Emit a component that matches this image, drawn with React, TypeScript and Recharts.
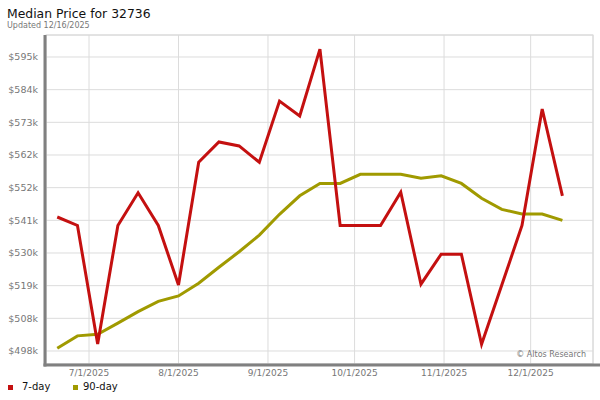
import React from 'react';
import { LineChart, Line, XAxis, YAxis, CartesianGrid, Customized } from 'recharts';

const DAY = 86400000;

const dates = [
  '2025-06-20', '2025-06-27', '2025-07-04', '2025-07-11', '2025-07-18', '2025-07-25',
  '2025-08-01', '2025-08-08', '2025-08-15', '2025-08-22', '2025-08-29', '2025-09-05',
  '2025-09-12', '2025-09-19', '2025-09-26', '2025-10-03', '2025-10-10', '2025-10-17',
  '2025-10-24', '2025-10-31', '2025-11-07', '2025-11-14', '2025-11-21', '2025-11-28',
  '2025-12-05', '2025-12-12',
];

const sevenDay = [
  542300, 539500, 500300, 539500, 550300, 539500,
  519800, 560400, 567100, 565800, 560400, 580600,
  575700, 597800, 539500, 539500, 539500, 550500,
  520100, 530000, 530000, 500200, 519800, 539500,
  578000, 549300,
];

const ninetyDay = [
  498900, 503000, 503500, 507200, 511000, 514400,
  516200, 520400, 525700, 530800, 536300, 543200,
  549300, 553400, 553400, 556400, 556400, 556400,
  555100, 555900, 553400, 548500, 544800, 543300,
  543300, 541200,
];

const xTickDates = ['2025-07-01', '2025-08-01', '2025-09-01', '2025-10-01', '2025-11-01', '2025-12-01'];
const xTickLabels = ['7/1/2025', '8/1/2025', '9/1/2025', '10/1/2025', '11/1/2025', '12/1/2025'];

const yTicks = [498000, 508800, 519600, 530400, 541200, 552000, 562800, 573600, 584400, 595200];
const yTickLabels = ['$498k', '$508k', '$519k', '$530k', '$541k', '$552k', '$562k', '$573k', '$584k', '$595k'];

const seriesNames = ['7-day', '90-day'];
const seriesColors = ['#c41010', '#a09a00'];

const toT = (s: string) => {
  const [y, m, d] = s.split('-').map(Number);
  return Date.UTC(y, m - 1, d);
};

const data = dates.map((d, i) => ({ t: toT(d), d7: sevenDay[i], d90: ninetyDay[i] }));
const xTicks = xTickDates.map(toT);

const W = 600;
const H = 400;
const M = { top: 35, right: 7, left: 0, bottom: 0 };
const Y_W = 46;
const X_H = 36;
const PL = M.left + Y_W;
const PT = M.top;
const PR = W - M.right;
const PB = H - M.bottom - X_H;

const xDomain = [toT('2025-07-01') - 14.9 * DAY, toT('2025-07-01') + 174.6 * DAY];
const yDomain = [493700, 602470];

const FONT = '"DejaVu Sans", Verdana, sans-serif';

const Frame = () => (
  <g>
    <rect x={PL} y={PT} width={PR - PL} height={PB - PT} fill="none" stroke="#d8d8d8" strokeWidth={1} />
    <line x1={PL - 1} y1={PT} x2={PL - 1} y2={PB + 2.5} stroke="#808080" strokeWidth={3} />
    <line x1={PL - 2.5} y1={PB + 1} x2={W} y2={PB + 1} stroke="#808080" strokeWidth={3} />
    <text x={7} y={18} fontFamily={FONT} fontSize={12.4} fill="#111">Median Price for 32736</text>
    <text x={7} y={27.5} fontFamily={FONT} fontSize={8} fill="#777">Updated 12/16/2025</text>
    <text x={586} y={357} fontFamily={FONT} fontSize={8} fill="#777" textAnchor="end">© Altos Research</text>
    {seriesNames.map((n, i) => (
      <g key={n}>
        <rect x={8 + i * 65} y={385} width={5} height={5} fill={seriesColors[i]} />
        <text x={22 + i * 61} y={390} fontFamily={FONT} fontSize={10} fill="#111">{n}</text>
      </g>
    ))}
  </g>
);

export default function App() {
  return (
    <div style={{ position: 'absolute', left: 0, top: 0, width: W, height: H, background: '#fff' }}>
      <LineChart width={W} height={H} data={data} margin={M}>
        <CartesianGrid stroke="#dcdcdc" strokeWidth={1} />
        <XAxis
          type="number"
          dataKey="t"
          domain={xDomain}
          allowDataOverflow
          ticks={xTicks}
          tickFormatter={(v: number) => xTickLabels[xTicks.indexOf(v)] ?? ''}
          height={X_H}
          axisLine={false}
          tickLine={false}
          tickMargin={0}
          interval={0}
          tick={{ fill: '#777', fontSize: 9, fontFamily: FONT }}
        />
        <YAxis
          type="number"
          domain={yDomain}
          allowDataOverflow
          ticks={yTicks}
          tickFormatter={(v: number) => yTickLabels[yTicks.indexOf(v)] ?? ''}
          width={Y_W}
          axisLine={false}
          tickLine={false}
          interval={0}
          tick={{ fill: '#777', fontSize: 9.5, fontFamily: FONT }}
        />
        <Line
          type="linear"
          dataKey="d90"
          stroke={seriesColors[1]}
          strokeWidth={3}
          strokeLinejoin="miter"
          dot={false}
          activeDot={false}
          isAnimationActive={false}
        />
        <Line
          type="linear"
          dataKey="d7"
          stroke={seriesColors[0]}
          strokeWidth={3}
          strokeLinejoin="miter"
          dot={false}
          activeDot={false}
          isAnimationActive={false}
        />
        <Customized component={Frame} />
      </LineChart>
    </div>
  );
}
